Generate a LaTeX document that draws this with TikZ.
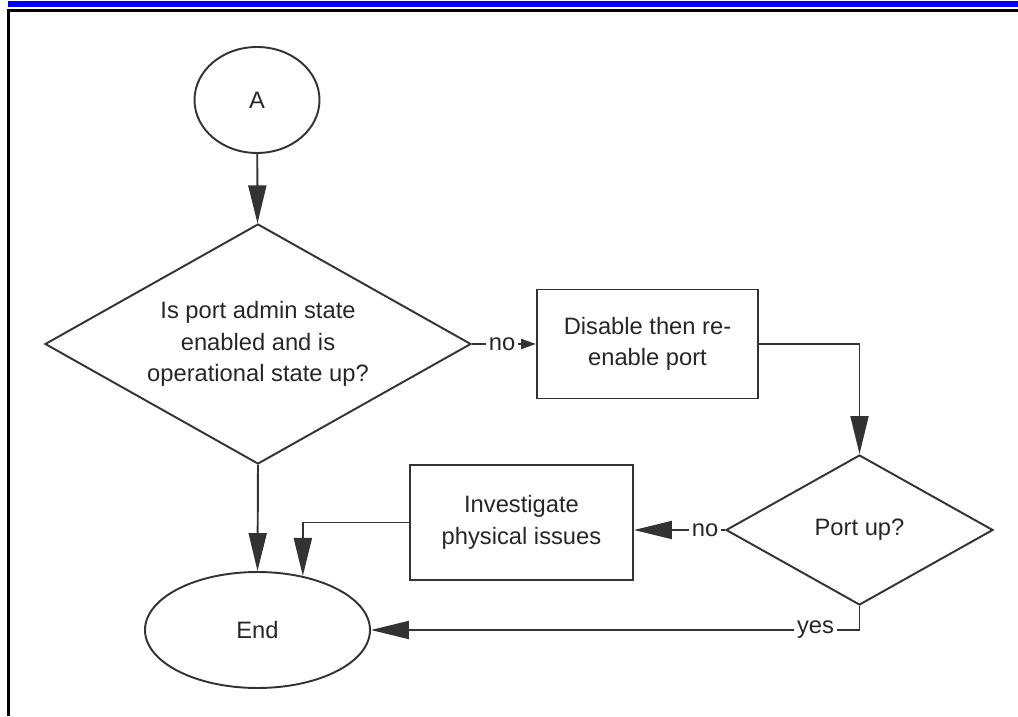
\documentclass[tikz,border=0pt]{standalone}
\usepackage{fontspec}
\setmainfont{Liberation Sans}
\usetikzlibrary{shapes.geometric,arrows.meta}
\begin{document}
\begin{tikzpicture}[
		line width=1.1pt, draw=black!80,
		txt/.style={font=\fontsize{13.5}{18}\selectfont, text=black!85, align=center},
		oval/.style={txt, draw, ellipse, inner sep=0pt},
		ask/.style={txt, draw, diamond, aspect=1.78, inner sep=0pt},
		act/.style={txt, draw, rectangle, inner sep=0pt},
		flow/.style={-{Triangle[length=0.76cm, width=0.36cm]}},
		tag/.style={txt, fill=white, inner sep=1.5pt}]
				\useasboundingbox (0,0) rectangle (20.36,14.32);
				\fill[blue] (0.16,14.18) rectangle (20.36,14.30);
				\draw[black, line width=0.06cm] (0.17,0) -- (0.17,14.11) -- (20.36,14.11);
				\node[oval, minimum width=2.5cm, minimum height=2.12cm] (A) at (5.14,12.32) {A};
				\node[ask, minimum width=8.52cm, minimum height=4.8cm] (Q1) at (5.16,7.44) {Is port admin state\\enabled and is\\operational state up?};
				\node[act, minimum width=4.42cm, minimum height=2.18cm] (R1) at (12.95,7.44) {Disable then re-\\enable port};
				\node[ask, minimum width=5.34cm, minimum height=3.0cm] (Q2) at (17.19,3.72) {Port up?};
				\node[act, minimum width=4.46cm, minimum height=2.3cm] (R2) at (10.43,3.87) {Investigate\\physical issues};
				\node[oval, minimum width=4.5cm, minimum height=2.32cm] (E) at (5.15,1.72) {End};
				\draw[flow] (A) to (Q1);
				\draw[-{Triangle[length=0.3cm, width=0.2cm]}] (Q1.east) to node[tag, pos=0.47] {no} (R1.west);
				\draw[flow] (R1.east) -| (Q2.north);
				\draw[flow] (Q2.west) to node[tag, pos=0.22] {no} (Q2.west -| R2.east);
				\draw[flow] (R2.west) -| (E.50);
				\draw[flow] (Q1.south) to (E.north);
				\draw[flow] (Q2.south) |- node[tag, pos=0.545] {yes} (E.east);
\end{tikzpicture}
\end{document}
